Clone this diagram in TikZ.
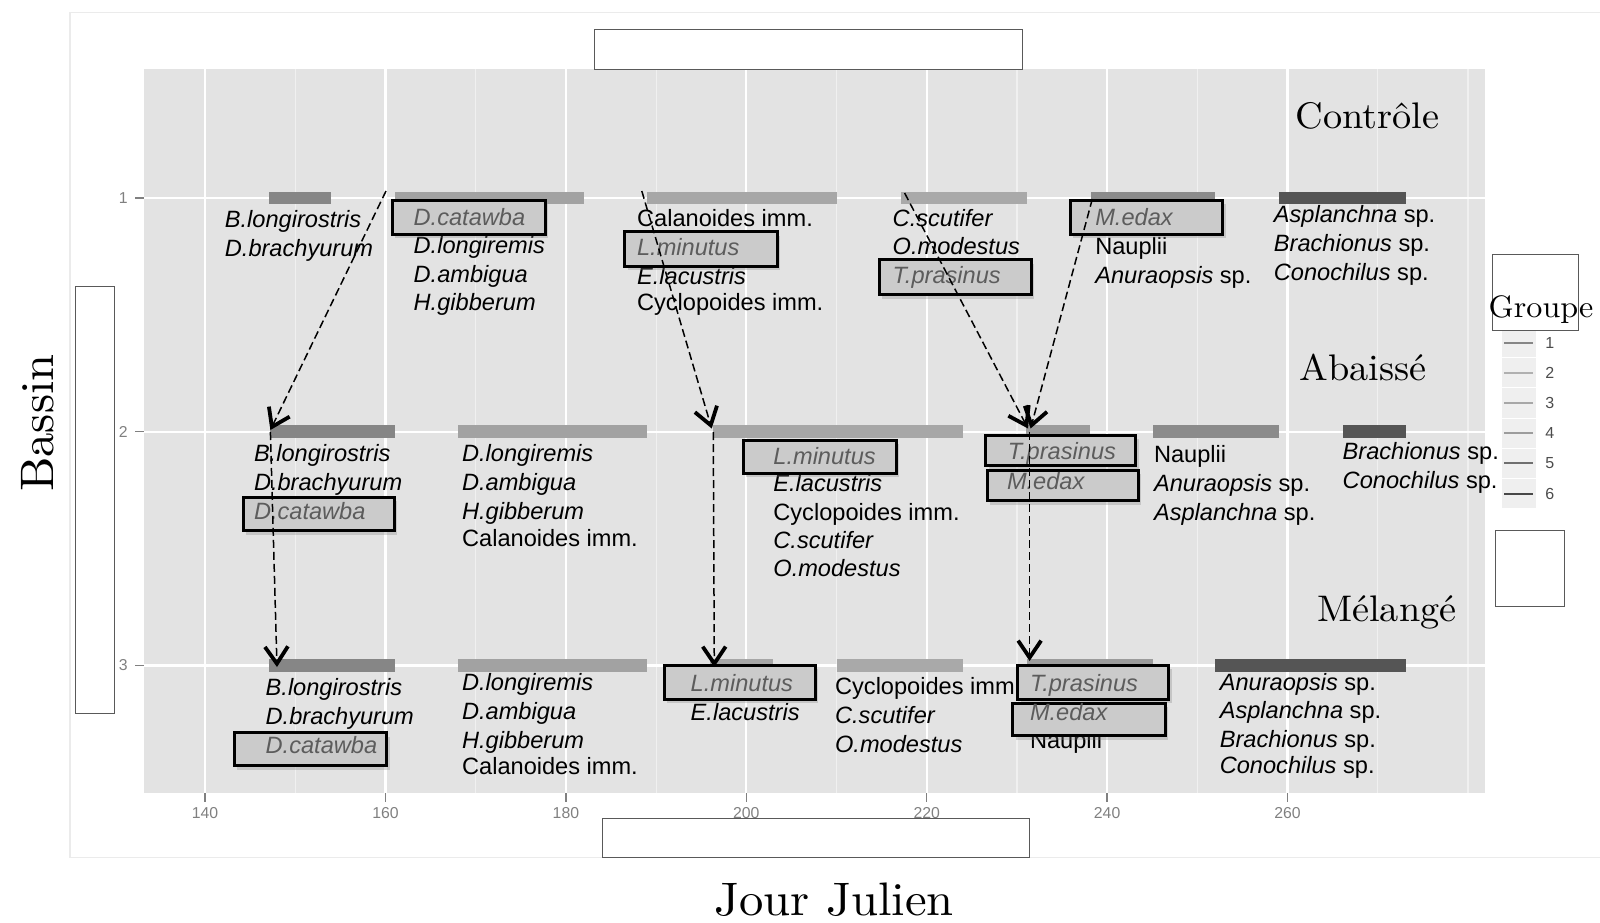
\documentclass[tikz,border=0pt]{standalone}
\usepackage{fontspec}
\newfontfamily\lsans{Liberation Sans}
\newfontfamily\wideserif{lmroman10-regular}[Extension=.otf, FakeStretch=1.035]
\usetikzlibrary{arrows.meta,shadows,fit}
\definecolor{panel}{HTML}{E3E3E3}
\definecolor{minorgrid}{HTML}{F0F0F0}
\definecolor{tickgray}{HTML}{808080}
\definecolor{hlgray}{HTML}{5C5C5C}
\definecolor{boxfill}{HTML}{CBCBCB}
\definecolor{gA}{HTML}{868686}
\definecolor{gB}{HTML}{A2A2A2}
\definecolor{gC}{HTML}{A7A7A7}
\definecolor{gD}{HTML}{A9A9A9}
\definecolor{gE}{HTML}{8B8B8B}
\definecolor{gF}{HTML}{9C9C9C}
\definecolor{gG}{HTML}{555555}
\definecolor{frame}{HTML}{EBEBEB}
\definecolor{keybg}{HTML}{EFEFEF}
\newcommand\zbar[4]{\fill[#4] ({205.1+((#1)-140)*9.02},{#3-6.3}) rectangle ({205.1+((#2)-140)*9.02},{#3+6.3});}
\begin{document}
\begin{tikzpicture}[x=0.5pt,y=-0.5pt,
  spec/.style={anchor=base west, inner sep=0pt, font=\lsans\fontsize{11.8}{14}\selectfont\itshape},
  uprt/.style={anchor=base west, inner sep=0pt, font=\lsans\fontsize{11.8}{14}\selectfont},
  hltext/.style={spec, text=hlgray},
  hlbox/.style={draw=black, line width=1.5pt, fill=boxfill, inner sep=0pt,
     drop shadow={shadow xshift=1.5pt, shadow yshift=-2pt, opacity=0.3}},
  flow/.style={draw=black, line width=0.75pt, dash pattern=on 4pt off 2pt,
     -{Straight Barb[length=8.5pt,width=11.5pt,line width=1.9pt]}},
  ticklab/.style={inner sep=0pt, text=tickgray, font=\lsans\fontsize{7.9}{9}\selectfont},
  mask/.style={draw=black!65, line width=0.5pt, fill=white},
  serifttl/.style={anchor=base west, inner sep=0pt, font=\wideserif\fontsize{18.5}{22}\selectfont},
  bigttl/.style={inner sep=0pt, font=\wideserif\fontsize{23.5}{28}\selectfont},
  keylab/.style={anchor=west, inner sep=0pt, text=black!70, font=\lsans\fontsize{8}{9}\selectfont}
]
\useasboundingbox (0,0) rectangle (1600,922);
\fill[white] (0,0) rectangle (1600,922);
% outer frame
\draw[frame, line width=0.6pt] (70,12.7) rectangle (1620,857.7);
% panel
\fill[panel] (144.4,69) rectangle (1485,793.3);
% minor grid
\foreach \d in {150,170,190,210,230,250,270,280}
  \draw[minorgrid, line width=0.6pt] ({205.1+(\d-140)*9.02},69) -- ({205.1+(\d-140)*9.02},793.3);
% major grid
\foreach \d in {140,160,180,200,220,240,260}
  \draw[white, line width=1.1pt] ({205.1+(\d-140)*9.02},69) -- ({205.1+(\d-140)*9.02},793.3);
\foreach \yy in {197.8,431.7,665.5}
  \draw[white, line width=1.1pt] (144.4,\yy) -- (1485,\yy);
% ticks and labels
\foreach \d in {140,160,180,200,220,240,260}{
  \draw[tickgray, line width=0.7pt] ({205.1+(\d-140)*9.02},793.3) -- ({205.1+(\d-140)*9.02},802);
  \node[ticklab] (xl\d) at ({205.1+(\d-140)*9.02},812.8) {\d};
}
\foreach \b/\yy in {1/197.8,2/431.7,3/665.5}{
  \draw[tickgray, line width=0.7pt] (135,\yy) -- (143.5,\yy);
  \node[ticklab, anchor=east] (yl\b) at (128,\yy) {\b};
}
% bars row 1
\zbar{147.1}{154.0}{197.8}{gA}
\zbar{161.1}{182.0}{197.8}{gB}
\zbar{189.0}{210.0}{197.8}{gC}
\zbar{217.1}{231.1}{197.8}{gD}
\zbar{238.2}{252.0}{197.8}{gE}
\zbar{259.1}{273.1}{197.8}{gG}
% bars row 2
\zbar{147.2}{161.0}{431.7}{gA}
\zbar{168.0}{189.0}{431.7}{gB}
\zbar{196.3}{224.0}{431.7}{gC}
\zbar{231.0}{238.1}{431.7}{gF}
\zbar{245.1}{259.1}{431.7}{gE}
\zbar{266.1}{273.1}{431.7}{gG}
% bars row 3
\zbar{147.1}{161.0}{665.5}{gA}
\zbar{168.0}{189.0}{665.5}{gB}
\zbar{196.0}{203.0}{665.5}{gC}
\zbar{210.0}{224.0}{665.5}{gD}
\zbar{231.1}{245.1}{665.5}{gF}
\zbar{252.0}{273.1}{665.5}{gG}
% row 1 texts
\node[spec] (r1a) at (224.5,227.7) {B.longirostris};
\node[spec] (r1b) at (224.5,256) {D.brachyurum};
\node[spec] (r1c) at (413.3,253.3) {D.longiremis};
\node[spec] (r1d) at (413.3,282.7) {D.ambigua};
\node[spec] (r1e) at (413.3,310) {H.gibberum};
\node[uprt] (r1f) at (636.7,226) {Calanoides imm.};
\node[spec] (r1g) at (636.7,284.3) {E.lacustris};
\node[uprt] (r1h) at (636.7,310.7) {Cyclopoides imm.};
\node[spec] (r1i) at (892.3,226) {C.scutifer};
\node[spec] (r1j) at (892.3,254.3) {O.modestus};
\node[uprt] (r1k) at (1094.9,254.3) {Nauplii};
\node[uprt] (r1l) at (1094.9,283.3) {\itshape Anuraopsis\upshape\ sp.};
\node[uprt] (r1m) at (1273.5,222.7) {\itshape Asplanchna\upshape\ sp.};
\node[uprt] (r1n) at (1273.5,251) {\itshape Brachionus\upshape\ sp.};
\node[uprt] (r1o) at (1273.5,280) {\itshape Conochilus\upshape\ sp.};
% row 2 texts
\node[spec] (r2a) at (253.6,461.7) {B.longirostris};
\node[spec] (r2b) at (253.6,490.7) {D.brachyurum};
\node[spec] (r2c) at (461.7,461.7) {D.longiremis};
\node[spec] (r2d) at (461.7,490.7) {D.ambigua};
\node[spec] (r2e) at (461.7,519) {H.gibberum};
\node[uprt] (r2f) at (461.7,546) {Calanoides imm.};
\node[spec] (r2g) at (773,491.7) {E.lacustris};
\node[uprt] (r2h) at (773,520) {Cyclopoides imm.};
\node[spec] (r2i) at (773,548.3) {C.scutifer};
\node[spec] (r2j) at (773,576.7) {O.modestus};
\node[uprt] (r2k) at (1153.6,462.7) {Nauplii};
\node[uprt] (r2l) at (1153.6,491.7) {\itshape Anuraopsis\upshape\ sp.};
\node[uprt] (r2m) at (1153.6,520) {\itshape Asplanchna\upshape\ sp.};
\node[uprt] (r2n) at (1342.3,459.3) {\itshape Brachionus\upshape\ sp.};
\node[uprt] (r2o) at (1342.3,488.3) {\itshape Conochilus\upshape\ sp.};
% row 3 texts
\node[spec] (r3a) at (265.3,695) {B.longirostris};
\node[spec] (r3b) at (265.3,724) {D.brachyurum};
\node[spec] (r3c) at (461.7,690) {D.longiremis};
\node[spec] (r3d) at (461.7,719) {D.ambigua};
\node[spec] (r3e) at (461.7,748.3) {H.gibberum};
\node[uprt] (r3f) at (461.7,774.3) {Calanoides imm.};
\node[spec] (r3g) at (690.3,720) {E.lacustris};
\node[uprt] (r3h) at (834.7,694.3) {Cyclopoides imm.};
\node[spec] (r3i) at (834.7,723.3) {C.scutifer};
\node[spec] (r3j) at (834.7,752.3) {O.modestus};
\node[uprt] (r3k) at (1029.6,748.3) {Nauplii};
\node[uprt] (r3l) at (1219.4,690) {\itshape Anuraopsis\upshape\ sp.};
\node[uprt] (r3m) at (1219.4,718.3) {\itshape Asplanchna\upshape\ sp.};
\node[uprt] (r3n) at (1219.4,747.3) {\itshape Brachionus\upshape\ sp.};
\node[uprt] (r3o) at (1219.4,773.3) {\itshape Conochilus\upshape\ sp.};
% highlighted boxes
\node[hlbox, fit={(392,200) (545,234)}] (bxA) {};
\node[hltext] (bxAt) at (413.3,225) {D.catawba};
\node[hlbox, fit={(624.5,231.5) (777,266)}] (bxB) {};
\node[hltext] (bxBt) at (636.7,255) {L.minutus};
\node[hlbox, fit={(879,259.5) (1031,294.5)}] (bxC) {};
\node[hltext] (bxCt) at (892.3,283.3) {T.prasinus};
\node[hlbox, fit={(1070,200) (1222.5,234)}] (bxD) {};
\node[hltext] (bxDt) at (1094.9,225) {M.edax};
\node[hlbox, fit={(243.3,497) (394.4,530.7)}] (bxE) {};
\node[hltext] (bxEt) at (253.6,519) {D.catawba};
\node[hlbox, fit={(743.3,440.3) (896,473.3)}] (bxF) {};
\node[hltext] (bxFt) at (773,464) {L.minutus};
\node[hlbox, fit={(985.7,435.3) (1135.7,465.7)}] (bxG) {};
\node[hltext] (bxGt) at (1007.5,459) {T.prasinus};
\node[hlbox, fit={(987.2,470.3) (1138.3,500.7)}] (bxH) {};
\node[hltext] (bxHt) at (1006.6,489) {M.edax};
\node[hlbox, fit={(234.2,732.7) (386.8,765.7)}] (bxI) {};
\node[hltext] (bxIt) at (265.3,753.3) {D.catawba};
\node[hlbox, fit={(664.3,665.3) (815.3,699)}] (bxJ) {};
\node[hltext] (bxJt) at (690.3,691) {L.minutus};
\node[hlbox, fit={(1017.8,665.3) (1168.9,699)}] (bxK) {};
\node[hltext] (bxKt) at (1029.6,691) {T.prasinus};
\node[hlbox, fit={(1012.7,703.3) (1165.3,735.7)}] (bxL) {};
\node[hltext] (bxLt) at (1029.6,720) {M.edax};
% arrows
\coordinate (a1s) at (386,191);   \coordinate (a1e) at (270.4,430);
\coordinate (a2s) at (641.8,191); \coordinate (a2e) at (711.7,428.5);
\coordinate (a3s) at (904.6,193); \coordinate (a3e) at (1028,428.5);
\coordinate (a4s) at (1092.3,199);\coordinate (a4e) at (1030.6,428.5);
\coordinate (a5s) at (270.4,432); \coordinate (a5e) at (277,667);
\coordinate (a6s) at (713.3,432); \coordinate (a6e) at (714.3,667);
\coordinate (a7s) at (1029.6,432);\coordinate (a7e) at (1029.6,661);
\draw[flow] (a1s) -- (a1e);
\draw[flow] (a2s) -- (a2e);
\draw[flow] (a3s) -- (a3e);
\draw[flow] (a4s) -- (a4e);
\draw[flow] (a5s) -- (a5e);
\draw[flow] (a6s) -- (a6e);
\draw[flow] (a7s) -- (a7e);
% panel titles
\node[serifttl] (tC) at (1295,128.3) {Contrôle};
\node[serifttl] (tA) at (1299,380) {Abaissé};
\node[serifttl] (tM) at (1316.8,621.7) {Mélangé};
% legend keys
\foreach \i/\c/\col in {1/342.5/gA,2/372.7/gB!85!white,3/402.9/gC,4/433.1/gF,5/463.3/gE!80!black,6/493.5/gG!85!black}{
  \fill[keybg] (1501.7,\c-14.6) rectangle (1536,\c+14.6);
  \draw[\col, line width=1pt] (1504.3,\c) -- (1533.3,\c);
  \node[keylab] (kl\i) at (1545,\c) {\i};
}
% masks
\node[mask, fit={(594.4,29.3) (1022.4,69)}, inner sep=0pt] (mtop) {};
\node[mask, fit={(75,286) (114.3,713.3)}, inner sep=0pt] (mleft) {};
\node[mask, fit={(602,818.7) (1029.6,857.7)}, inner sep=0pt] (mbot) {};
\node[mask, fit={(1495,530) (1564,606.7)}, inner sep=0pt] (mright) {};
\node[mask, fit={(1492.7,254) (1578.3,330.7)}, inner sep=0pt] (mgrp) {};
\node[inner sep=0pt, anchor=base west, font=\wideserif\fontsize{15.5}{19}\selectfont] (grp) at (1488.3,317.3) {Groupe};
% axis titles
\node[bigttl, anchor=base west] (xt) at (714,915) {Jour Julien};
\node[bigttl, rotate=90, anchor=base] (yt) at (53,423) {Bassin};
\end{tikzpicture}
\end{document}
